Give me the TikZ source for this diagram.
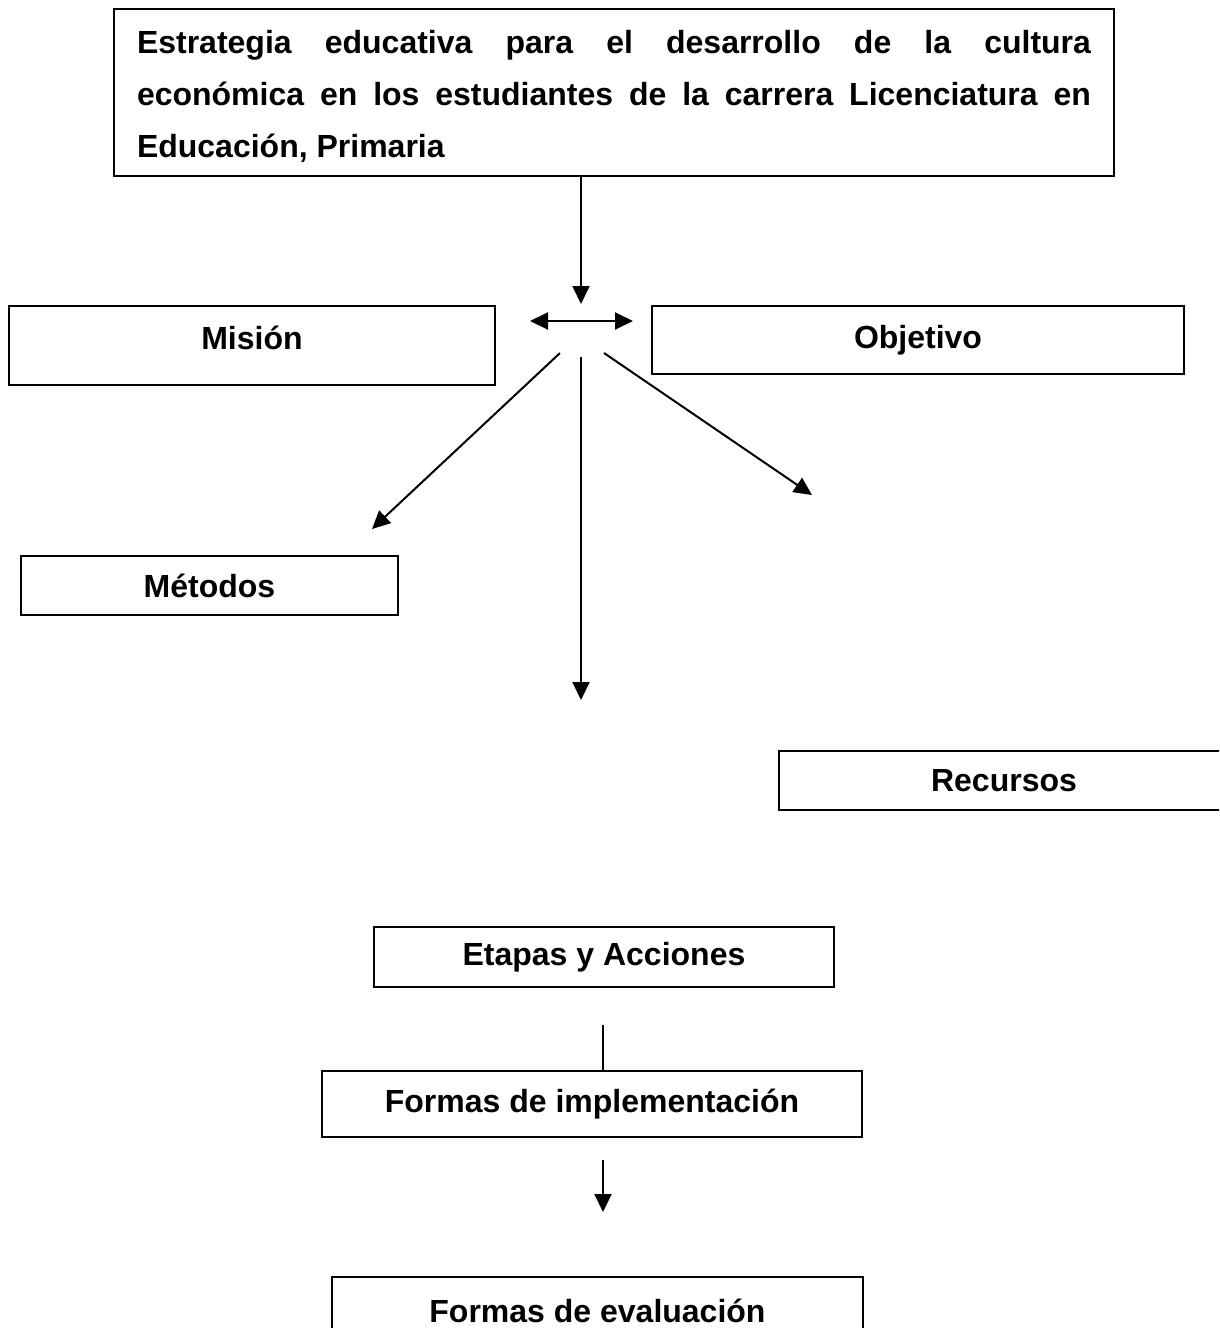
\documentclass[tikz,border=0pt]{standalone}
\usepackage{fontspec}
\setmainfont{Liberation Sans}
\usetikzlibrary{arrows.meta}
\begin{document}
\begin{tikzpicture}[x=1pt,y=-1pt,
  every node/.style={font=\fontsize{32}{52}\selectfont\bfseries},
  box/.style={draw, line width=2pt, inner sep=0pt, anchor=north west},
  conn/.style={line width=2pt, -{Triangle[length=18pt,width=17pt]}},
  plain/.style={line width=2pt}]
\useasboundingbox (0,0) rectangle (1219,1328);
\clip (0,0) rectangle (1219,1328);

% top box
\node[box, minimum width=1000, minimum height=167, text width=954, align=justify]
  (top) at (113,8) {\hyphenpenalty=10000 \rule{0pt}{30pt}Estrategia educativa para el desarrollo de la cultura\linebreak econ\'omica en los estudiantes de la carrera Licenciatura en\linebreak Educaci\'on, Primaria};

% boxes
\node[box, minimum width=486, minimum height=79, text depth=15pt] (mision) at (8,305) {Misión};
\node[box, minimum width=532, minimum height=68] (objetivo) at (651,305) {Objetivo};
\node[box, minimum width=377, minimum height=59] (metodos) at (20,555) {Métodos};
\node[box, minimum width=450, minimum height=59] (recursos) at (778,750) {Recursos};
\node[box, minimum width=460, minimum height=60] (etapas) at (373,926) {Etapas y Acciones};
\node[box, minimum width=540, minimum height=66] (implem) at (321,1070) {Formas de implementación};
\node[box, minimum width=531, minimum height=68] (evaluac) at (331,1276) {Formas de evaluación};

% free-end coordinates
\coordinate (hubtop) at (581,304);
\coordinate (dl) at (530,321);
\coordinate (dr) at (633,321);
\coordinate (sl) at (560,353);
\coordinate (el) at (372,529);
\coordinate (sc) at (581,357);
\coordinate (ec) at (581,700);
\coordinate (sr) at (604,353);
\coordinate (er) at (812,495);
\coordinate (ls) at (603,1025);
\coordinate (as) at (603,1160);
\coordinate (ae) at (603,1212);

\draw[conn] (top.south -| hubtop) -- (hubtop);
\draw[line width=2pt, {Triangle[length=18pt,width=17pt]}-{Triangle[length=18pt,width=17pt]}] (dl) -- (dr);
\draw[conn] (sl) -- (el);
\draw[conn] (sc) -- (ec);
\draw[conn] (sr) -- (er);
\draw[plain] (ls) -- (implem.north -| ls);
\draw[conn] (as) -- (ae);
\end{tikzpicture}
\end{document}
